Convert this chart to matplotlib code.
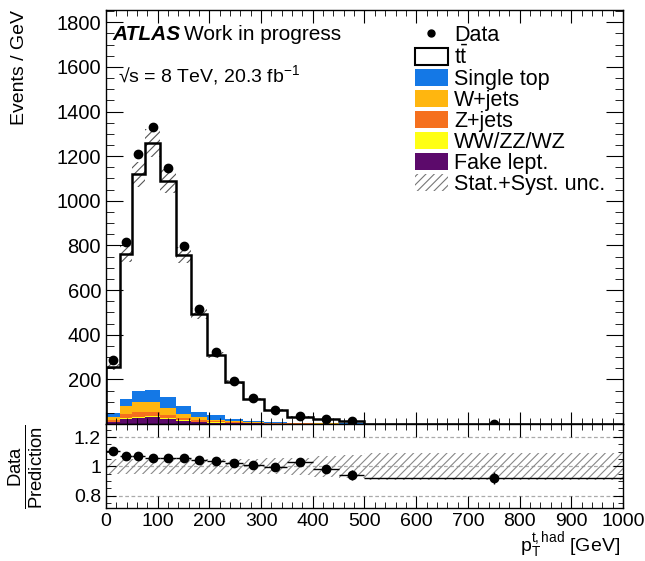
import numpy as np
import matplotlib
matplotlib.use("Agg")
import matplotlib.pyplot as plt
from matplotlib.patches import Patch
from matplotlib.lines import Line2D
from matplotlib.ticker import MultipleLocator, FixedLocator, FixedFormatter

plt.rcParams['font.family'] = ['Liberation Sans', 'DejaVu Sans']
plt.rcParams['mathtext.fontset'] = 'custom'
plt.rcParams['mathtext.rm'] = 'Liberation Sans'
plt.rcParams['mathtext.it'] = 'Liberation Sans:italic'
plt.rcParams['mathtext.bf'] = 'Liberation Sans:bold'
plt.rcParams['hatch.linewidth'] = 0.8

# bin edges in GeV
edges = [0, 28, 50, 75, 105, 135, 165, 195, 230, 265, 305, 350, 400, 450, 500, 1000]

# events / GeV per bin
fake = [8, 22, 28, 30, 22, 13, 9, 6, 4, 2.5, 1.5, 1, 0.6, 0.4, 0.1]
diboson = [1, 3, 5, 5, 4, 3, 2, 1.5, 1, 0.6, 0.4, 0.3, 0.2, 0.1, 0.05]
zjets = [10, 21, 20, 18, 16, 12, 9, 4.5, 4, 2.5, 1.5, 1, 0.6, 0.4, 0.1]
wjets = [14, 33, 45, 45, 29, 18, 11, 8, 5.5, 3.5, 2.5, 1.5, 1, 0.6, 0.2]
singletop = [15, 34, 52, 55, 49, 36, 22, 19, 9, 5, 3, 2, 1.5, 1, 0.3]
ttbar = [209, 649, 968, 1107, 969, 675, 441, 270, 166, 98, 56, 27, 18, 10, 1.25]
data = [285, 817, 1208, 1329, 1148, 799, 514, 321, 193, 116, 64, 34, 22, 11.8, 1.8]

# ratio panel
ratio = [1.108, 1.074, 1.074, 1.055, 1.06, 1.06, 1.041, 1.034, 1.021, 1.009, 0.995, 1.028, 0.98, 0.94, 0.92]
ratio_err = [0.008, 0.006, 0.005, 0.005, 0.005, 0.006, 0.007, 0.008, 0.01, 0.012, 0.015, 0.02, 0.025, 0.035, 0.04]
rel_unc = [0.05, 0.05, 0.05, 0.05, 0.05, 0.05, 0.05, 0.05, 0.05, 0.05, 0.055, 0.06, 0.07, 0.08, 0.09]

edges = np.array(edges, dtype=float)
centers = 0.5 * (edges[1:] + edges[:-1])
halfw = 0.5 * (edges[1:] - edges[:-1])

fig = plt.figure(figsize=(6.45, 5.61), dpi=100)
ax = fig.add_axes([0.1643, 0.2442, 0.8016, 0.7380])
rax = fig.add_axes([0.1643, 0.0945, 0.8016, 0.1497])

stack = [(fake, '#5c0a6b'), (diboson, '#ffff14'), (zjets, '#f5701e'),
         (wjets, '#ffb60f'), (singletop, '#1478e6')]
base = np.zeros(len(centers))
for vals, col in stack:
    top = base + np.array(vals)
    ax.stairs(top, edges, baseline=base, fill=True, color=col, lw=0)
    base = top

total = base + np.array(ttbar)
ax.stairs(total, edges, baseline=base, fill=True, color='white', lw=0)
unc = np.array(rel_unc)
ax.stairs(total * (1 + unc), edges, baseline=total * (1 - unc), fill=True,
          facecolor='none', edgecolor='#555555', hatch='////', lw=0)
ax.stairs(total, edges, color='black', lw=1.8)
ax.errorbar(centers, data, yerr=np.sqrt(np.array(data) / 20), fmt='o', color='black',
            ms=6, elinewidth=1, capsize=0)

ax.set_xlim(0, 1000)
ax.set_ylim(0, 1855)
ax.yaxis.set_major_locator(FixedLocator([200, 400, 600, 800, 1000, 1200, 1400, 1600, 1800]))
ax.yaxis.set_minor_locator(MultipleLocator(50))
ax.xaxis.set_major_locator(MultipleLocator(100))
ax.xaxis.set_minor_locator(MultipleLocator(20))
ax.tick_params(axis='x', which='both', labelbottom=False)
ax.tick_params(which='both', direction='in', top=True, right=True, labelsize=14.5)
ax.tick_params(axis='y', which='major', length=12)
ax.tick_params(axis='y', which='minor', length=6)
ax.tick_params(axis='x', which='major', length=9)
ax.tick_params(axis='x', which='minor', length=4.5)

# ratio panel
rax.stairs(1 + unc, edges, baseline=1 - unc, fill=True, facecolor='none',
           edgecolor='#888888', hatch='////', lw=0)
for yl in [0.8, 1.0, 1.2]:
    rax.axhline(yl, color='#aaaaaa', ls=(0, (3, 2)), lw=0.9, zorder=0)
rax.errorbar(centers, ratio, xerr=halfw, yerr=ratio_err, fmt='o', color='black',
             ms=6, elinewidth=1, capsize=0)
rax.set_xlim(0, 1000)
rax.set_ylim(0.715, 1.29)
rax.yaxis.set_major_locator(FixedLocator([0.8, 1.0, 1.2]))
rax.yaxis.set_major_formatter(FixedFormatter(['0.8', '1', '1.2']))
rax.yaxis.set_minor_locator(MultipleLocator(0.05))
rax.xaxis.set_major_locator(MultipleLocator(100))
rax.xaxis.set_minor_locator(MultipleLocator(20))
rax.tick_params(which='both', direction='in', top=True, right=True, labelsize=14)
rax.tick_params(axis='x', which='major', length=9)
rax.tick_params(axis='x', which='minor', length=4.5)
rax.tick_params(axis='y', which='major', length=7)
rax.tick_params(axis='y', which='minor', length=3.5)

for a in (ax, rax):
    for sp in a.spines.values():
        sp.set_linewidth(1.0)

fig.text(0.031, 0.982, 'Events / GeV', rotation=90, ha='center', va='top', fontsize=14)
fig.text(0.04, 0.168, r'$\frac{\mathrm{Data}}{\mathrm{Prediction}}$', rotation=90,
         ha='center', va='center', fontsize=19)
fig.text(0.962, 0.028, r'$\mathrm{p}_{\mathrm{T}}^{\mathrm{t,had}}$ [GeV]', ha='right',
         va='center', fontsize=14)

fig.text(0.175, 0.938, 'ATLAS', fontsize=15, fontweight='bold', fontstyle='italic',
         va='center', ha='left')
fig.text(0.285, 0.938, 'Work in progress', fontsize=15, va='center', ha='left')
fig.text(0.183, 0.866, '√s = 8 TeV, 20.3 fb$^{-1}$', fontsize=14, va='center', ha='left')

handles = [
    Line2D([], [], marker='o', color='black', ms=5, lw=1, linestyle='none'),
    Patch(facecolor='white', edgecolor='black', lw=1.5),
    Patch(facecolor='#1478e6', lw=0),
    Patch(facecolor='#ffb60f', lw=0),
    Patch(facecolor='#f5701e', lw=0),
    Patch(facecolor='#ffff14', lw=0),
    Patch(facecolor='#5c0a6b', lw=0),
    Patch(facecolor='white', edgecolor='#777777', hatch='////', lw=0),
]
labels = ['Data', r'$\mathrm{t\bar{t}}$', 'Single top', 'W+jets', 'Z+jets',
          'WW/ZZ/WZ', 'Fake lept.', 'Stat.+Syst. unc.']
ax.legend(handles, labels, loc='upper left', bbox_to_anchor=(0.626, 0.975),
          bbox_transform=fig.transFigure, frameon=False, fontsize=15.5,
          handlelength=1.55, handleheight=0.85, handletextpad=0.3,
          labelspacing=0.0, borderpad=0)

fig.savefig('out.png', dpi=100)
